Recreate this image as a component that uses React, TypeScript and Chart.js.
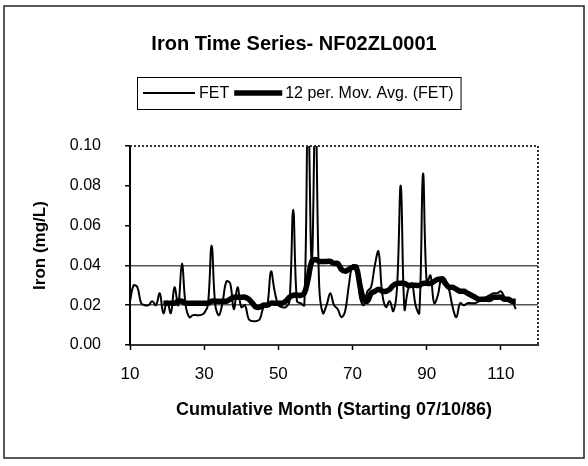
import React, { useEffect, useRef } from "react";
import { Chart, registerables } from "chart.js";

Chart.register(...registerables);

const chartTitle = "Iron Time Series- NF02ZL0001";
const seriesNames = ["FET", "12 per. Mov. Avg. (FET)"];
const xAxisTitle = "Cumulative Month (Starting 07/10/86)";
const yAxisTitle = "Iron (mg/L)";

const xTickValues = [10, 30, 50, 70, 90, 110];
const gridValues = [0.02, 0.04];

const fetMonths = [
  10, 11, 12, 13, 14, 15, 16, 17, 18, 19, 20, 21, 22, 23, 24, 25, 26, 27, 28, 29,
  30, 31, 32, 33, 34, 35, 36, 37, 38, 39, 40, 41, 42, 43, 44, 45, 46, 47, 48, 49,
  50, 51, 52, 53, 54, 55, 56, 57, 58, 59, 60, 61, 62, 63, 64, 65, 66, 67, 68, 69,
  70, 71, 72, 73, 74, 75, 76, 77, 78, 79, 80, 81, 82, 83, 84, 85, 86, 87, 88, 89,
  90, 91, 92, 93, 94, 95, 96, 97, 98, 99, 100, 101, 102, 103, 104, 105, 106, 107, 108, 109,
  110, 111, 112, 113, 114,
];
const fetValues = [
  0.022, 0.030, 0.029, 0.021, 0.020, 0.020, 0.022, 0.020, 0.026, 0.016,
  0.022, 0.016, 0.029, 0.020, 0.041, 0.020, 0.014, 0.015, 0.015, 0.015,
  0.016, 0.020, 0.050, 0.020, 0.015, 0.022, 0.032, 0.031, 0.018, 0.029,
  0.019, 0.020, 0.013, 0.012, 0.012, 0.013, 0.019, 0.020, 0.037, 0.027,
  0.020, 0.019, 0.019, 0.022, 0.068, 0.022, 0.021, 0.020, 0.120, 0.040,
  0.120, 0.030, 0.016, 0.020, 0.026, 0.020, 0.018, 0.014, 0.017, 0.030,
  0.040, 0.039, 0.024, 0.020, 0.027, 0.029, 0.040, 0.047, 0.026, 0.019,
  0.022, 0.017, 0.029, 0.080, 0.018, 0.028, 0.031, 0.020, 0.016, 0.086,
  0.031, 0.035, 0.021, 0.025, 0.034, 0.033, 0.028, 0.019, 0.014, 0.021,
  0.020, 0.021, 0.021, 0.021, 0.022, 0.023, 0.024, 0.025, 0.026, 0.026,
  0.027, 0.024, 0.022, 0.022, 0.018,
];

const maMonths = [
  19, 20, 21, 22, 23, 24, 25, 26, 27, 28, 29, 30, 31, 32, 33, 34, 35, 36, 37, 38,
  39, 40, 41, 42, 43, 44, 45, 46, 47, 48, 49, 50, 51, 52, 53, 54, 55, 56, 57, 58,
  59, 60, 61, 62, 63, 64, 65, 66, 67, 68, 69, 70, 71, 72, 73, 74, 75, 76, 77, 78,
  79, 80, 81, 82, 83, 84, 85, 86, 87, 88, 89, 90, 91, 92, 93, 94, 95, 96, 97, 98,
  99, 100, 101, 102, 103, 104, 105, 106, 107, 108, 109, 110, 111, 112, 113, 114,
];
const maValues = [
  0.021, 0.021, 0.021, 0.021, 0.022, 0.022, 0.021, 0.021, 0.021, 0.021,
  0.021, 0.021, 0.021, 0.022, 0.022, 0.022, 0.022, 0.022, 0.023, 0.024,
  0.024, 0.024, 0.024, 0.023, 0.021, 0.019, 0.019, 0.020, 0.020, 0.021,
  0.021, 0.021, 0.021, 0.022, 0.024, 0.025, 0.025, 0.025, 0.026, 0.033,
  0.042, 0.043, 0.042, 0.042, 0.042, 0.042, 0.041, 0.041, 0.038, 0.037,
  0.038, 0.039, 0.039, 0.030, 0.023, 0.022, 0.026, 0.027, 0.028, 0.027,
  0.027, 0.028, 0.030, 0.031, 0.031, 0.031, 0.030, 0.030, 0.030, 0.030,
  0.031, 0.031, 0.031, 0.032, 0.033, 0.033, 0.031, 0.029, 0.029, 0.028,
  0.027, 0.027, 0.026, 0.025, 0.024, 0.023, 0.023, 0.023, 0.023, 0.024,
  0.024, 0.024, 0.023, 0.023, 0.022, 0.022,
];

const FONT = "'Liberation Sans', Arial, Helvetica, sans-serif";

const decorPlugin = {
  id: "decor",
  afterDraw(chart: any) {
    const ctx = chart.ctx as CanvasRenderingContext2D;
    const { left, right, top, bottom } = chart.chartArea;
    ctx.save();
    // outer border
    ctx.strokeStyle = "#222";
    ctx.lineWidth = 1.5;
    ctx.strokeRect(4, 6, 580, 452);
    // plot frame top / right (dotted)
    ctx.setLineDash([2, 2]);
    ctx.lineWidth = 2;
    ctx.strokeStyle = "#333";
    ctx.beginPath();
    ctx.moveTo(left, top);
    ctx.lineTo(right, top);
    ctx.lineTo(right, bottom);
    ctx.stroke();
    ctx.setLineDash([]);
    // title
    ctx.fillStyle = "#000";
    ctx.font = `bold 20px ${FONT}`;
    ctx.textAlign = "center";
    ctx.textBaseline = "middle";
    ctx.fillText(chartTitle, 294, 44);
    // legend
    const lx = 137;
    const ly = 77;
    const lh = 32;
    const cy = ly + lh / 2;
    ctx.font = `16px ${FONT}`;
    ctx.textAlign = "left";
    let x = lx + 6;
    ctx.strokeStyle = "#000";
    ctx.lineWidth = 2;
    ctx.beginPath();
    ctx.moveTo(x, cy);
    ctx.lineTo(x + 52, cy);
    ctx.stroke();
    x += 56;
    ctx.fillText(seriesNames[0], x, cy + 1);
    x += ctx.measureText(seriesNames[0]).width + 5;
    ctx.lineWidth = 5.5;
    ctx.beginPath();
    ctx.moveTo(x, cy);
    ctx.lineTo(x + 48, cy);
    ctx.stroke();
    x += 51;
    ctx.fillText(seriesNames[1], x, cy + 1);
    x += ctx.measureText(seriesNames[1]).width + 7;
    ctx.lineWidth = 1;
    ctx.strokeRect(lx + 0.5, ly + 0.5, x - lx, lh);
    ctx.restore();
  },
};

export default function App() {
  const canvasRef = useRef<HTMLCanvasElement | null>(null);

  useEffect(() => {
    const canvas = canvasRef.current;
    if (!canvas) return;
    const chart = new Chart(canvas, {
      type: "line",
      data: {
        datasets: [
          {
            label: seriesNames[0],
            data: fetMonths.map((m, i) => ({ x: m, y: fetValues[i] })),
            borderColor: "#000",
            borderWidth: 2,
            pointRadius: 0,
            tension: 0.4,
            fill: false,
          },
          {
            label: seriesNames[1],
            data: maMonths.map((m, i) => ({ x: m, y: maValues[i] })),
            borderColor: "#000",
            borderWidth: 5.5,
            pointRadius: 0,
            tension: 0.4,
            fill: false,
          },
        ],
      },
      options: {
        animation: false,
        responsive: false,
        maintainAspectRatio: false,
        layout: { padding: { top: 146, left: 0, right: 50, bottom: 0 } },
        plugins: {
          legend: { display: false },
          title: { display: false },
          tooltip: { enabled: false },
        },
        scales: {
          x: {
            type: "linear",
            min: 10,
            max: 120,
            afterBuildTicks: (scale: any) => {
              scale.ticks = xTickValues.map((v) => ({ value: v }));
            },
            afterFit: (scale: any) => {
              scale.height = 121;
            },
            ticks: {
              color: "#000",
              font: { family: FONT, size: 17 },
              padding: 14,
              maxRotation: 0,
              callback: (v: any) => String(v),
            },
            grid: {
              display: true,
              drawOnChartArea: false,
              drawTicks: true,
              tickLength: 5,
              tickColor: "#000",
              tickWidth: 1.5,
            },
            border: { display: true, color: "#333", width: 2, dash: [2, 2] },
            title: {
              display: true,
              text: xAxisTitle,
              color: "#000",
              font: { family: FONT, size: 18, weight: "bold" },
              padding: { top: 0, bottom: 45 },
            },
          },
          y: {
            type: "linear",
            min: 0,
            max: 0.1,
            afterFit: (scale: any) => {
              scale.width = 130;
            },
            ticks: {
              stepSize: 0.02,
              color: "#000",
              font: { family: FONT, size: 16 },
              padding: 24,
              callback: (v: any) => Number(v).toFixed(2),
            },
            grid: {
              display: true,
              drawTicks: true,
              tickLength: 5,
              tickColor: "#000",
              tickWidth: 1.5,
              lineWidth: 1.5,
              color: (c: any) => {
                const val = c && c.tick ? c.tick.value : null;
                if (val === null) return "rgba(0,0,0,0)";
                return gridValues.some((g) => Math.abs(val - g) < 1e-9) ? "#555" : "rgba(0,0,0,0)";
              },
            },
            border: { display: true, color: "#000", width: 2 },
            title: {
              display: true,
              text: yAxisTitle,
              color: "#000",
              font: { family: FONT, size: 17, weight: "bold" },
              padding: { top: 30, bottom: 0 },
            },
          },
        },
      },
      plugins: [decorPlugin],
    });
    return () => chart.destroy();
  }, []);

  return (
    <div style={{ position: "absolute", left: 0, top: 0, width: 588, height: 466, background: "#fff" }}>
      <canvas ref={canvasRef} width={588} height={466} />
    </div>
  );
}
